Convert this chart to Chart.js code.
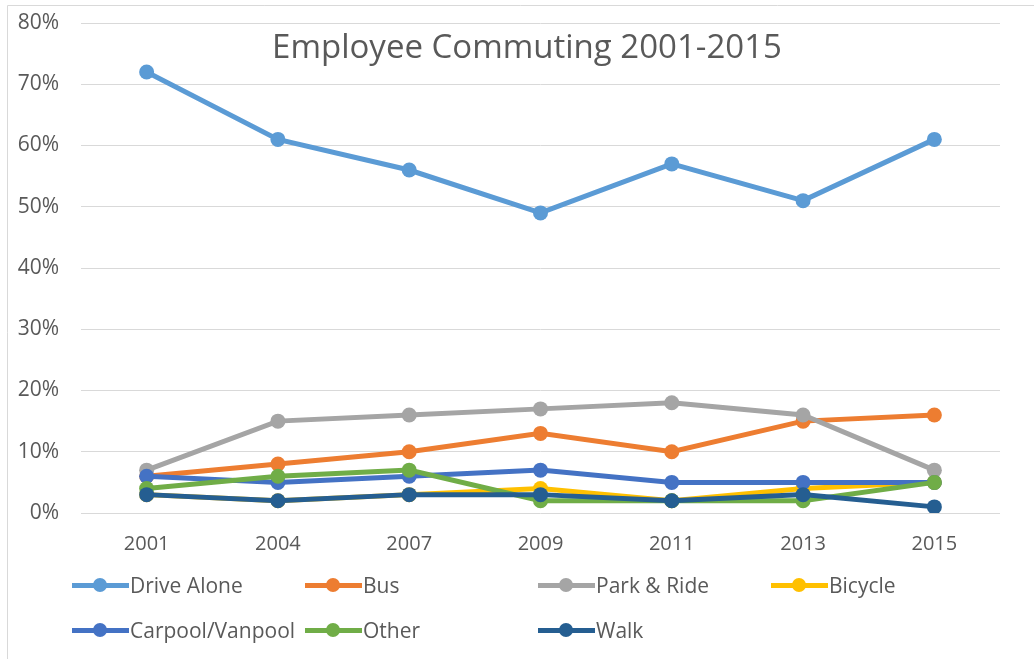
<!DOCTYPE html>
<html>
<head>
<meta charset="utf-8">
<script src="https://cdn.jsdelivr.net/npm/chart.js@4"></script>
<style>
  body { margin: 0; background: #fff; }
  #wrap { position: relative; width: 1034px; height: 659px; }
  #legend { position: absolute; left: 0; top: 0; width: 1034px; height: 659px; pointer-events: none; }
  .item { position: absolute; display: flex; align-items: center; font-family: "Open Sans", sans-serif; font-size: 21px; color: #595959; }
  .mark { position: relative; width: 57px; height: 14px; margin-right: 1px; }
  .mark .ln { position: absolute; left: 0; right: 0; top: 5px; height: 5px; }
  .mark .dot { position: absolute; left: 21px; top: 0; width: 14px; height: 14px; border-radius: 50%; }
</style>
</head>
<body>
<div id="wrap">
  <canvas id="commuteChart" width="1034" height="659"></canvas>
  <div id="legend"></div>
</div>
<script>
const years = ["2001", "2004", "2007", "2009", "2011", "2013", "2015"];
const seriesNames = ["Drive Alone", "Bus", "Park & Ride", "Bicycle", "Carpool/Vanpool", "Other", "Walk"];
const driveAlone = [72, 61, 56, 49, 57, 51, 61];
const bus = [6, 8, 10, 13, 10, 15, 16];
const parkRide = [7, 15, 16, 17, 18, 16, 7];
const bicycle = [3, 2, 3, 4, 2, 4, 5];
const carpool = [6, 5, 6, 7, 5, 5, 5];
const other = [4, 6, 7, 2, 2, 2, 5];
const walk = [3, 2, 3, 3, 2, 3, 1];
const seriesValues = [driveAlone, bus, parkRide, bicycle, carpool, other, walk];
const colors = ["#5B9BD5", "#ED7D31", "#A5A5A5", "#FFC000", "#4472C4", "#70AD47", "#255E91"];

const textColor = "#595959";
const gridColor = "#D9D9D9";

// title sits inside the plot area, and the outer chart frame
const framePlugin = {
  id: "frame",
  beforeDraw(chart) {
    const ctx = chart.ctx;
    ctx.save();
    ctx.strokeStyle = gridColor;
    ctx.lineWidth = 1;
    ctx.beginPath();
    ctx.moveTo(7.5, 659);
    ctx.lineTo(7.5, 5.5);
    ctx.lineTo(1034, 5.5);
    ctx.stroke();
    ctx.restore();
  },
  afterDatasetsDraw(chart) {
    const ctx = chart.ctx;
    ctx.save();
    ctx.fillStyle = textColor;
    ctx.font = '33px "Open Sans", sans-serif';
    ctx.textAlign = "center";
    ctx.textBaseline = "middle";
    ctx.fillText("Employee Commuting 2001-2015", 527, 49);
    ctx.restore();
  },
};

const ctx = document.getElementById("commuteChart").getContext("2d");
const commuteChart = new Chart(ctx, {
  type: "line",
  data: {
    labels: years,
    datasets: seriesNames.map((name, i) => ({
      label: name,
      data: seriesValues[i],
      borderColor: colors[i],
      backgroundColor: colors[i],
      borderWidth: 5,
      pointRadius: 7.5,
      pointHoverRadius: 7.5,
      pointBorderWidth: 0,
      tension: 0,
      order: seriesNames.length - 1 - i,
    })),
  },
  options: {
    responsive: false,
    animation: false,
    layout: { padding: { top: 23, right: 34, left: 0, bottom: 0 } },
    plugins: {
      legend: { display: false },
      tooltip: { enabled: false },
    },
    scales: {
      x: {
        offset: true,
        grid: { display: false, drawTicks: false },
        border: { display: false },
        ticks: { color: textColor, font: { family: "Open Sans", size: 20 }, padding: 19 },
        afterFit(scale) {
          scale.height = 146;
          scale.paddingLeft = 0;
          scale.paddingRight = 0;
        },
      },
      y: {
        min: 0,
        max: 80,
        grid: { color: gridColor, lineWidth: 1, drawTicks: false },
        border: { display: false },
        ticks: {
          stepSize: 10,
          color: textColor,
          font: { family: "Open Sans", size: 21 },
          padding: 22,
          callback: (v) => v + "%",
        },
        afterFit(scale) {
          scale.width = 81;
          scale.paddingTop = 0;
          scale.paddingBottom = 0;
        },
      },
    },
  },
  plugins: [framePlugin],
});

// legend laid out in a fixed grid like the original
const legendEl = document.getElementById("legend");
commuteChart.data.datasets.forEach((ds, i) => {
  const row = Math.floor(i / 4);
  const col = i % 4;
  const item = document.createElement("div");
  item.className = "item";
  item.style.left = (72 + col * 233) + "px";
  item.style.top = (571 + row * 45) + "px";
  item.innerHTML =
    '<span class="mark"><span class="ln" style="background:' + ds.borderColor + '"></span>' +
    '<span class="dot" style="background:' + ds.borderColor + '"></span></span>';
  const label = document.createElement("span");
  label.textContent = ds.label;
  item.appendChild(label);
  legendEl.appendChild(item);
});
</script>
</body>
</html>
